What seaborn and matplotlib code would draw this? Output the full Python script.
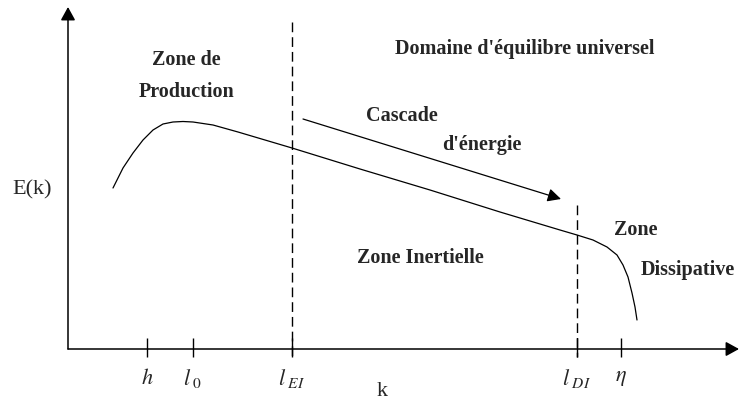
import matplotlib
matplotlib.use('Agg')
import matplotlib.pyplot as plt
import seaborn as sns

# Spectre d'énergie E(k) : coordonnées du schéma (repère image, y vers le bas)
courbe_k = [113, 123, 133, 143, 153, 163, 173, 183, 193, 213, 238, 292, 360, 430, 500, 560,
            577, 593, 607, 617, 623, 628, 632, 635, 637]
courbe_E = [188, 168, 153, 140, 130, 124, 122, 121.5, 122, 125, 132, 148, 169, 190, 212, 230,
            235, 240, 247, 255, 265, 277, 293, 307, 320]

# échelles caractéristiques sur l'axe k
echelles_pos = [147, 193, 292, 577, 621]
echelles_lab = [r'$h$', r'$l_{\ 0}$', r'$l_{\ EI}$', r'$l_{\ DI}$', r'$\eta$']

# frontières des zones (traits pointillés) : x, y haut
frontieres_x = [292, 577]
frontieres_haut = [22, 205]

# flèche "cascade d'énergie"
cascade_debut = (303, 119)
cascade_fin = (561, 199)

# textes des zones
zones_txt = ["Zone de", "Production", "Domaine d'équilibre universel", "Cascade",
             "d'énergie", "Zone Inertielle", "Zone", "Dissipative"]
zones_x = [186, 187, 525, 402, 482, 420, 636, 688]
zones_y = [60, 92, 49, 116, 145, 258, 230, 270]

sns.set_theme(style="white")
plt.rcParams['font.family'] = ['Liberation Serif', 'DejaVu Serif']
plt.rcParams['mathtext.fontset'] = 'stix'

fig = plt.figure(figsize=(7.39, 4.04), dpi=100)
ax = fig.add_axes([0, 0, 1, 1])
ax.set_xlim(0, 739)
ax.set_ylim(404, 0)
ax.axis('off')

# axes avec flèches
axe_y0 = 349
axe_x0 = 68
fleche = dict(arrowstyle='-|>,head_length=0.4,head_width=0.22', mutation_scale=20,
              color='black', lw=1.1, shrinkA=0, shrinkB=0)
ax.annotate('', xy=(axe_x0, 7), xytext=(axe_x0, axe_y0), arrowprops=fleche)
ax.annotate('', xy=(739, axe_y0), xytext=(axe_x0, axe_y0), arrowprops=fleche)

# courbe
sns.lineplot(x=courbe_k, y=courbe_E, sort=False, color='black', lw=0.9, ax=ax)

# graduations
ax.vlines(echelles_pos, 338, 357, color='black', lw=1.0)
for xp, lab in zip(echelles_pos, echelles_lab):
    ax.text(xp, 379, lab, fontsize=16, ha='center', va='center')

# frontières pointillées
for xf, yh in zip(frontieres_x, frontieres_haut):
    ax.plot([xf, xf], [yh, 357], color='black', lw=1.0, dashes=(7, 3.6))

# flèche de cascade
ax.annotate('', xy=cascade_fin, xytext=cascade_debut,
            arrowprops=dict(arrowstyle='-|>,head_length=0.4,head_width=0.2',
                            mutation_scale=20, color='black', lw=0.9,
                            shrinkA=0, shrinkB=0))

for t, xt, yt in zip(zones_txt, zones_x, zones_y):
    ax.text(xt, yt, t, fontsize=14.5, fontweight='bold', ha='center', va='center')

ax.text(32, 190, 'E(k)', fontsize=16, ha='center', va='center')
ax.text(382, 391, 'k', fontsize=16, ha='center', va='center')

plt.savefig('out.png', dpi=100)
plt.close()
